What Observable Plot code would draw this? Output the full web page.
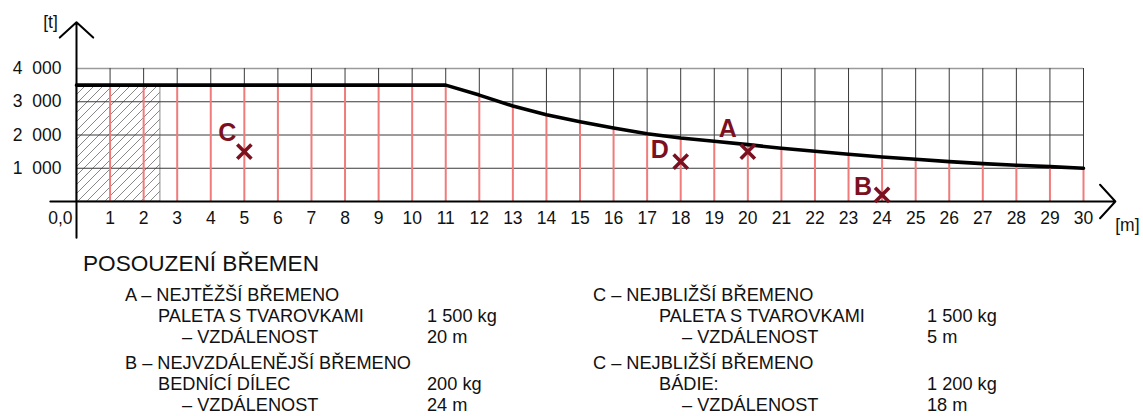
<!DOCTYPE html>
<html><head><meta charset="utf-8">
<script src="https://cdn.jsdelivr.net/npm/d3@7"></script>
<script src="https://cdn.jsdelivr.net/npm/@observablehq/plot@0.6"></script>
<style>
body{margin:0;background:#fff;font-family:"Liberation Sans",Arial,sans-serif;}
#wrap{position:relative;width:1143px;height:416px;overflow:hidden;background:#fff}
#chart{position:absolute;left:0;top:0}
.t{position:absolute;white-space:pre;font-size:18.2px;line-height:21px;color:#111}
.title{position:absolute;white-space:pre;font-size:22.6px;line-height:26px;color:#111}
</style></head><body><div id="wrap"><div id="chart"></div></div>
<script>
// ---- data ----
const distances = [0,1,2,3,4,5,6,7,8,9,10,11,12,13,14,15,16,17,18,19,20,21,22,23,24,25,26,27,28,29,30];
const capacity  = [3500,3500,3500,3500,3500,3500,3500,3500,3500,3500,3500,3500,3200,2870,2610,2400,2210,2040,1910,1810,1710,1600,1510,1420,1340,1270,1200,1140,1090,1050,1000];
const xTicks = [1,2,3,4,5,6,7,8,9,10,11,12,13,14,15,16,17,18,19,20,21,22,23,24,25,26,27,28,29,30];
const xTickLabels = xTicks.map(String);
const yTicks = [1000,2000,3000,4000];
const yTickLabels = ["1\u00a0\u00a0000","2\u00a0\u00a0000","3\u00a0\u00a0000","4\u00a0\u00a0000"];
const originLabel = "0,0";
const restrictedZone = [0, 2.5];
const loadNames = ["A","B","C","D"];
const loadDist  = [20,24,5,18];
const loadMass  = [1500,200,1500,1200];
const captionTitle = "POSOUZENÍ BŘEMEN";
const captionHeads = ["A – NEJTĚŽŠÍ BŘEMENO","B – NEJVZDÁLENĚJŠÍ BŘEMENO","C – NEJBLIŽŠÍ BŘEMENO","C – NEJBLIŽŠÍ BŘEMENO"];
const captionItems = ["PALETA S TVAROVKAMI","BEDNÍCÍ DÍLEC","PALETA S TVAROVKAMI","BÁDIE:"];
const captionMass  = ["1 500 kg","200 kg","1 500 kg","1 200 kg"];
const captionDistLabel = "– VZDÁLENOST";
const captionDist  = ["20 m","24 m","5 m","18 m"];

// ---- build ----
const curve = distances.map((d,i)=>({x:d, y:capacity[i]}));
const capAt = d => capacity[distances.indexOf(d)];
const loads = loadNames.map((n,i)=>({name:n, x:loadDist[i], y:loadMass[i]}));
const xMax = d3.max(distances), yMax = d3.max(yTicks);
const red = "#f07b7b", grid = "#3a3a3a", mark = "#7a1020";
const labelOff = {A:[-20,-23], B:[-19,-8], C:[-17,-19], D:[-21,-12]};

const chart = Plot.plot({
  width: 1143, height: 240, margin: 0,
  style: {fontFamily: '"Liberation Sans", Arial, sans-serif', background: "white", overflow: "visible"},
  x: {domain: [0, 30], range: [76, 1083], axis: null},
  y: {domain: [0, 4000], range: [201, 68], axis: null},
  marks: [
    Plot.rect([restrictedZone], {x1: d=>d[0], x2: d=>d[1], y1: 0, y2: capacity[0], fill: "url(#hatch)", stroke: "#8a8a8a", strokeWidth: 1}),
    Plot.ruleY(yTicks.slice(0,3), {x1: 0, x2: xMax, stroke: grid, strokeWidth: 1}),
    Plot.ruleY([yMax], {x1: 0, x2: xMax, stroke: "#9a9a9a", strokeWidth: 1.5}),
    Plot.ruleX(xTicks, {x: d=>d, y1: d=>capAt(d), y2: yMax, stroke: grid, strokeWidth: 1}),
    Plot.ruleX(xTicks, {x: d=>d, y1: 0, y2: d=>capAt(d), stroke: red, strokeWidth: 2}),
    Plot.line(curve, {x: "x", y: "y", stroke: "black", strokeWidth: 3.6}),
    Plot.arrow([0], {x1: -0.78, x2: 30.95, y1: 0, y2: 0, stroke: "black", strokeWidth: 2, headLength: 17, headAngle: 95}),
    Plot.arrow([0], {x1: 0, x2: 0, y1: -1090, y2: 5390, stroke: "black", strokeWidth: 2, headLength: 17, headAngle: 95}),
    Plot.text(xTicks, {x: d=>d, y: 0, text: (d,i)=>xTickLabels[i], dy: 17, fontSize: 17.5, fill: "#111"}),
    Plot.text([originLabel], {x: 0, y: 0, text: d=>d, dy: 17, dx: -4, textAnchor: "end", fontSize: 17.5, fill: "#111"}),
    Plot.text(yTicks, {x: 0, y: d=>d, text: (d,i)=>yTickLabels[i], dx: -15, textAnchor: "end", fontSize: 17.5, fill: "#111"}),
    Plot.text(["[t]"], {x: 0, y: 5390, text: d=>d, dx: -26, dy: 0, fontSize: 17.5, fill: "#111"}),
    Plot.text(["[m]"], {x: 30.95, y: 0, text: d=>d, dx: 12, dy: 24, fontSize: 17.5, fill: "#111"}),
    Plot.dot(loads, {x: "x", y: "y", symbol: "times", r: 6.5, stroke: mark, strokeWidth: 3.6}),
    ...loads.map(l => Plot.text([l], {x: "x", y: "y", text: "name", dx: labelOff[l.name][0], dy: labelOff[l.name][1], fontSize: 25, fontWeight: "bold", fill: mark}))
  ]
});
d3.select(chart).insert("defs", ":first-child").html(
  '<pattern id="hatch" patternUnits="userSpaceOnUse" width="9" height="9">' +
  '<path d="M0,9L9,0M-2,2L2,-2M7,11L11,7" stroke="#6a6a6a" stroke-width="0.8" fill="none"/></pattern>');
document.getElementById("chart").appendChild(chart);

// caption
const wrap = document.getElementById("wrap");
function put(cls, txt, left, cy, lh) {
  const el = document.createElement("div");
  el.className = cls; el.textContent = txt;
  el.style.left = left + "px"; el.style.top = (cy - lh/2) + "px";
  wrap.appendChild(el);
}
put("title", captionTitle, 83, 264, 26);
const cols = [{head:125, item:158, dist:182, val:427},{head:593, item:659, dist:682, val:927}];
const rows = [295, 363];
captionHeads.forEach((h,i) => {
  const c = cols[Math.floor(i/2)], y0 = rows[i%2];
  put("t", h, c.head, y0, 21);
  put("t", captionItems[i], c.item, y0+21, 21);
  put("t", captionMass[i], c.val, y0+21, 21);
  put("t", captionDistLabel, c.dist, y0+42, 21);
  put("t", captionDist[i], c.val, y0+42, 21);
});
</script></body></html>
